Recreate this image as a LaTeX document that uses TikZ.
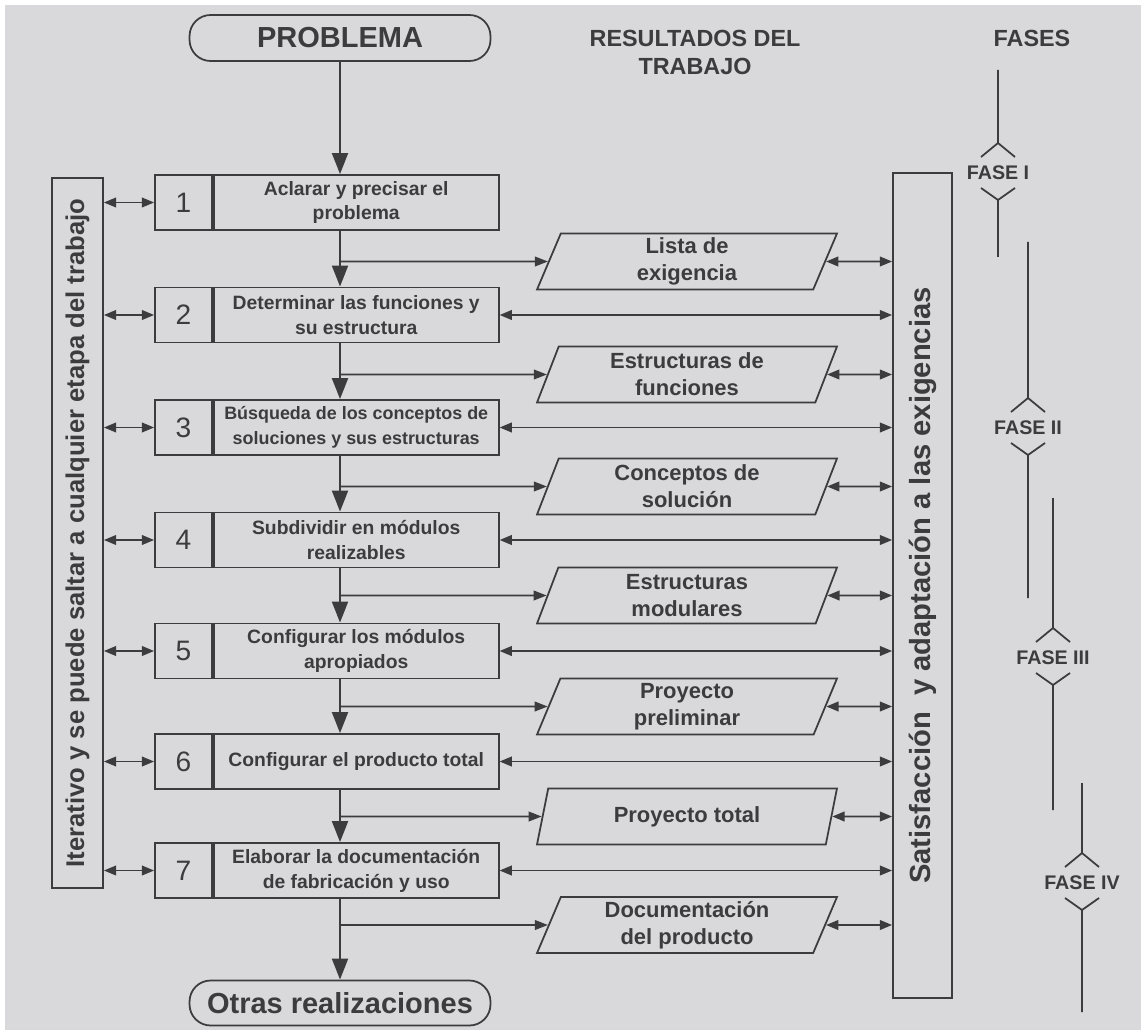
\documentclass[tikz,border=0pt]{standalone}
\usepackage{fontspec}
\setmainfont{Liberation Sans}
\usetikzlibrary{positioning,shapes.geometric,arrows.meta}
\definecolor{ink}{RGB}{60,60,62}
\definecolor{paper}{RGB}{217,217,220}
\tikzset{
  numcell/.style={draw=ink,line width=1pt,minimum width=1.14cm,minimum height=1.1cm,inner sep=0pt,font=\fontsize{16}{16}\selectfont},
  stepbox/.style={draw=ink,line width=1pt,minimum width=5.7cm,minimum height=1.1cm,inner sep=0pt,align=center,font=\bfseries\fontsize{11}{14.2}\selectfont},
  outbox/.style={draw=ink,line width=1pt,trapezium,trapezium left angle=65,trapezium right angle=115,trapezium stretches body,minimum width=6cm,minimum height=1.12cm,inner sep=1pt,align=center,font=\bfseries\fontsize{12.5}{15.3}\selectfont},
  term/.style={draw=ink,line width=1pt,rounded corners=12pt,minimum width=6.02cm,minimum height=0.92cm,inner sep=0pt,font=\bfseries\fontsize{16.5}{18}\selectfont},
  bar/.style={draw=ink,line width=1pt,rotate=90,inner sep=0pt,font=\bfseries},
  flow/.style={ink,line width=1.6pt,-{Triangle[length=12pt,width=9pt]}},
  branch/.style={ink,line width=1.1pt,-{Triangle[length=7.5pt,width=5.5pt]}},
  dbl/.style={ink,line width=1.1pt,{Triangle[length=7pt,width=5.5pt]}-{Triangle[length=7pt,width=5.5pt]}},
  head/.style={align=center,inner sep=0pt,font=\bfseries\fontsize{13.3}{16.4}\selectfont},
  faselbl/.style={inner sep=1pt,font=\bfseries\fontsize{11.2}{12}\selectfont},
  faseline/.style={ink,line width=1pt}
}
\begin{document}
\begin{tikzpicture}[x=0.02cm,y=-0.02cm,every node/.style={text=ink}]
\useasboundingbox (0,0) rectangle (1141,1030);
\fill[white] (0,0) rectangle (1141,1030);
\fill[paper] (5,5) rectangle (1141,1030);
% column heads
\node[term] (prob) at (340,38) {PROBLEMA};
\node[head] (res) at (695,52.5) {RESULTADOS DEL\\TRABAJO};
\node[head] (fases) at (1032,38) {FASES};
% steps
\node[numcell] (n1) at (183.5,202.5) {1};
\node[stepbox,right=0pt of n1] (s1) {Aclarar y precisar el\\problema};
\node[numcell] (n2) at (183.5,315) {2};
\node[stepbox,right=0pt of n2] (s2) {Determinar las funciones y\\su estructura};
\node[numcell] (n3) at (183.5,427.5) {3};
\node[stepbox,right=0pt of n3,font=\bfseries\fontsize{10.2}{14.2}\selectfont] (s3) {Búsqueda de los conceptos de\\soluciones y sus estructuras};
\node[numcell] (n4) at (183.5,540) {4};
\node[stepbox,right=0pt of n4] (s4) {Subdividir en módulos\\realizables};
\node[numcell] (n5) at (183.5,651) {5};
\node[stepbox,right=0pt of n5] (s5) {Configurar los módulos\\apropiados};
\node[numcell] (n6) at (183.5,761.5) {6};
\node[stepbox,right=0pt of n6] (s6) {Configurar el producto total};
\node[numcell] (n7) at (183.5,870.5) {7};
\node[stepbox,right=0pt of n7] (s7) {Elaborar la documentación\\de fabricación y uso};
\node[term,minimum height=0.9cm] (otras) at (340,1003) {Otras realizaciones};
% results
\node[outbox] (o1) at (687,261.5) {Lista de\\exigencia};
\node[outbox] (o2) at (687,374.5) {Estructuras de\\funciones};
\node[outbox] (o3) at (687,486.5) {Conceptos de\\solución};
\node[outbox] (o4) at (687,595.5) {Estructuras\\modulares};
\node[outbox] (o5) at (687,706.5) {Proyecto\\preliminar};
\node[outbox] (o6) at (687,816.5) {Proyecto total};
\node[outbox] (o7) at (687,925) {Documentación\\del producto};
% side bars
\node[bar,minimum width=14.2cm,minimum height=1.02cm,font=\bfseries\fontsize{14.6}{16}\selectfont] (iter) at (77.5,533) {Iterativo y se puede saltar a cualquier etapa del trabajo};
\node[bar,minimum width=16.5cm,minimum height=1.18cm,font=\bfseries\fontsize{16.6}{18}\selectfont] (sat) at (922.5,585.5) {Satisfacción\ \ y adaptación a las exigencias};
% main flow
\draw[flow] (prob) -- (prob |- s1.north);
\foreach \a/\b in {1/2,2/3,3/4,4/5,5/6,6/7}
  \draw[flow] (prob |- s\a.south) -- (prob |- s\b.north);
\draw[flow] (prob |- s7.south) -- (otras);
\foreach \i in {1,...,7}{
  \draw[branch] (prob |- o\i) -- (o\i);
  \draw[dbl] (o\i) -- (o\i -| sat.north);
  \draw[dbl] (n\i -| iter.south) -- (n\i);
}
\foreach \i in {2,...,7}
  \draw[dbl] (s\i) -- (s\i -| sat.north);
% phases
\foreach \x/\yt/\yl/\yb/\t [count=\i] in {998/70/173/257/I,1028/242/428/598/II,1053/498/658/810/III,1082/783/883/1012/IV}{
  \node[faselbl] (fase\i) at (\x,\yl) {FASE \t};
  \draw[faseline] (\x,\yt) -- (\x,\yl-30) -- ++(-17,14) (\x,\yl-30) -- ++(17,14)
    (\x-17,\yl+15) -- (\x,\yl+27) -- (\x+17,\yl+15) (\x,\yl+27) -- (\x,\yb);
}
\end{tikzpicture}
\end{document}
